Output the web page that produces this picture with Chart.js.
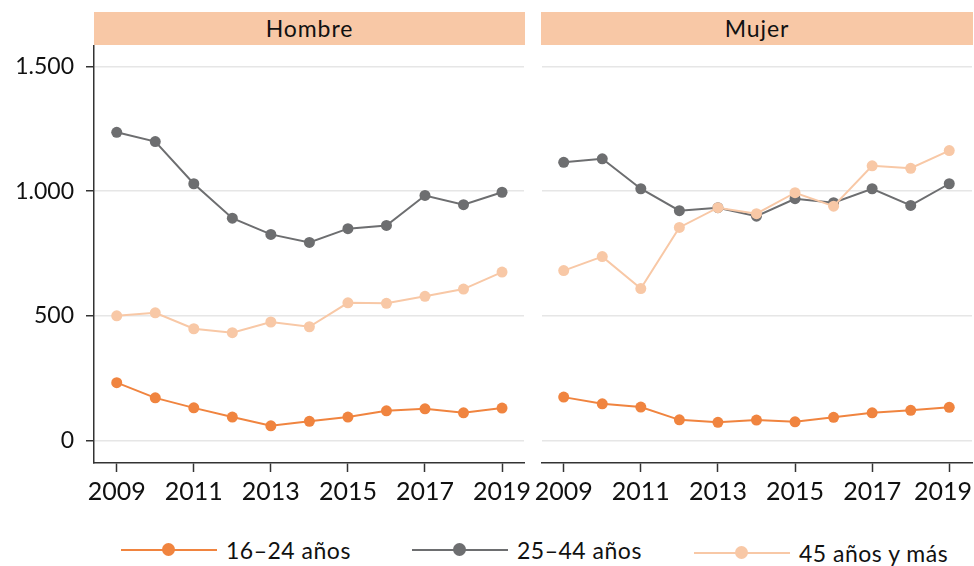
<!DOCTYPE html>
<html>
<head>
<meta charset="utf-8">
<script src="https://cdn.jsdelivr.net/npm/chart.js@4/dist/chart.umd.min.js"></script>
<style>
  html,body{margin:0;padding:0;background:#fff;}
  body{width:974px;height:566px;position:relative;overflow:hidden;font-family:Lato,"Open Sans",sans-serif;color:#111;}
  .strip{position:absolute;top:12px;height:33px;background:#F8C8A6;text-align:center;line-height:33px;font-size:23px;letter-spacing:0.9px;color:#111;}
  .cv{position:absolute;top:40px;height:480px;}
  .legend{position:absolute;top:537px;height:26px;font-size:23px;color:#111;}
  .item{position:absolute;top:0;height:26px;}
  .item .ln{position:absolute;top:12px;height:2px;width:96px;left:0;}
  .item .dot{position:absolute;top:6px;width:13px;height:13px;border-radius:50%;left:41px;}
  .item .tx{position:absolute;left:105px;top:0;line-height:26px;white-space:nowrap;letter-spacing:0.5px;}
</style>
</head>
<body>
<div class="strip" style="left:94px;width:431px;">Hombre</div>
<div class="strip" style="left:541px;width:432px;">Mujer</div>
<div class="cv" style="left:0;width:545px;"><canvas id="c1" width="545" height="480"></canvas></div>
<div class="cv" style="left:520px;width:464px;"><canvas id="c2" width="464" height="480"></canvas></div>
<div class="legend" style="left:0;width:974px;">
  <div class="item" style="left:121px;"><div class="ln" style="background:#F0843F"></div><div class="dot" style="background:#F0843F"></div><div class="tx">16–24 años</div></div>
  <div class="item" style="left:412px;"><div class="ln" style="background:#6D6E70"></div><div class="dot" style="background:#6D6E70"></div><div class="tx">25–44 años</div></div>
  <div class="item" style="left:694px;top:3px;"><div class="ln" style="background:#F8C8A6"></div><div class="dot" style="background:#F8C8A6"></div><div class="tx">45 años y más</div></div>
</div>
<script>
const years = [2009,2010,2011,2012,2013,2014,2015,2016,2017,2018,2019];
const xTicks = [2009,2011,2013,2015,2017,2019];
const yTicks = [0,500,1000,1500];
const seriesNames = ["16–24 años","25–44 años","45 años y más"];
const colors = ["#F0843F","#6D6E70","#F8C8A6"];

const hombre1624 = [233,172,132,95,60,78,95,120,128,112,131];
const hombre2544 = [1236,1199,1030,892,827,795,850,863,983,946,996];
const hombre45 = [501,513,449,433,476,457,553,551,579,608,676];

const mujer1624 = [175,148,135,84,74,83,76,94,112,122,134];
const mujer2544 = [1116,1130,1010,922,934,900,970,954,1010,943,1030];
const mujer45 = [682,738,610,855,934,910,994,940,1102,1092,1163];

function fmt(v){ return v.toString().replace(/\B(?=(\d{3})+(?!\d))/g,"."); }

function ds(label, data, color, order){
  return {label, data: years.map((y,i)=>({x:y,y:data[i]})), borderColor:color, backgroundColor:color,
    pointBackgroundColor:color, pointBorderColor:color, pointRadius:5.5, pointHoverRadius:5.5, pointBorderWidth:0,
    borderWidth:2, tension:0, order, clip:false};
}

// keeps the last x label of the right panel inside the visible page
const keepLastLabel = {
  id:'keepLastLabel',
  beforeDraw(chart, args, opts){
    if(!opts.limit) return;
    const s = chart.scales.x;
    const items = s.getLabelItems(chart.chartArea);
    const last = items[items.length-1];
    if(last && last.options && last.options.translation){
      last.options.textAlign = 'right';
      last.options.translation[0] = opts.limit;
    }
  }
};

function makeChart(id, d1, d2, d3, left, xmin, xmax){
  const ctx = document.getElementById(id);
  return new Chart(ctx, {
    type:'line',
    data:{datasets:[ds(seriesNames[0],d1,colors[0],3), ds(seriesNames[1],d2,colors[1],2), ds(seriesNames[2],d3,colors[2],1)]},
    plugins:[keepLastLabel],
    options:{
      responsive:false, animation:false, events:[],
      layout:{padding: left ? {left:0,right:21,top:5,bottom:0} : {left:22,right:12,top:5,bottom:0}},
      plugins:{legend:{display:false}, tooltip:{enabled:false}, keepLastLabel:{limit: left ? 0 : 452}},
      scales:{
        x:{type:'linear', min:xmin, max:xmax,
          afterBuildTicks:(s)=>{s.ticks = xTicks.map(v=>({value:v}));},
          afterFit:(s)=>{s.height=57; s.paddingLeft=0; s.paddingRight=0;},
          grid:{drawOnChartArea:false, drawTicks:true, tickLength:9, tickColor:'#333', tickWidth:1.5},
          border:{display:true, color:'#333', width:1.5},
          ticks:{padding:5, color:'#111', font:{family:'Lato', size:25}, maxRotation:0, autoSkip:false, callback:(v)=>String(v)}
        },
        y:{min:-89, max:1584,
          afterBuildTicks:(s)=>{s.ticks = yTicks.map(v=>({value:v}));},
          afterFit:(s)=>{s.width = left ? 94 : 0; s.paddingTop=0; s.paddingBottom=0;},
          grid:{color:'#E6E6E6', lineWidth:1.5, drawTicks:left, tickLength:8, tickColor:'#333', tickWidth:1.5},
          border:{display:left, color:'#333', width:1.5},
          ticks:{display:left, padding:12, color:'#111', font:{family:'Lato', size:23}, callback:(v)=>fmt(v)}
        }
      }
    }
  });
}
makeChart('c1', hombre1624, hombre2544, hombre45, true, 2008.41, 2019.57);
makeChart('c2', mujer1624, mujer2544, mujer45, false, 2008.437, 2019.59);
</script>
</body>
</html>
